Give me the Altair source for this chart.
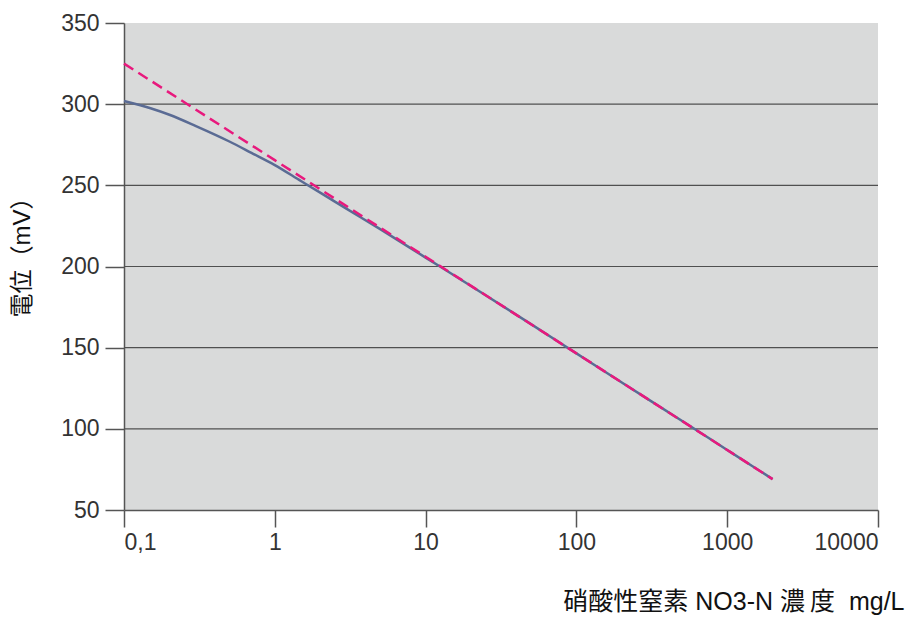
import altair as alt
import pandas as pd

# Measured potential curve (solid)
blue_x = [0.1, 0.15, 0.2, 0.3, 0.5, 0.7, 1, 1.5, 2, 3, 5, 10, 20, 50, 100, 200, 500, 1000, 2000]
blue_y = [302, 297.5, 293.5, 286.5, 277, 270, 262.5, 252.5, 245.5, 235.5, 223, 205.5, 188, 164.5, 146.5, 128.5, 105, 87, 69]

# Ideal Nernst line (dashed)
pink_x = [0.1, 1, 10, 100, 1000, 2000]
pink_y = [325, 265.5, 206, 146.5, 87, 69]

x_ticks = [0.1, 1, 10, 100, 1000, 10000]
y_ticks = [50, 100, 150, 200, 250, 300, 350]
grid_y = [100, 150, 200, 250, 300]

x_title = "硝酸性窒素 NO3-N 濃\u2009度\u00a0 mg/L"
y_title = "電位（mV）"

FONT = "Liberation Sans, Arial, Noto Sans CJK JP, sans-serif"

blue_df = pd.DataFrame({"c": blue_x, "e": blue_y})
pink_df = pd.DataFrame({"c": pink_x, "e": pink_y})
grid_df = pd.DataFrame({"e": grid_y})

xscale = alt.Scale(type="log", domain=[0.1, 10000], nice=False)
yscale = alt.Scale(domain=[50, 350], nice=False, zero=False)

x_axis = alt.Axis(
    values=x_ticks,
    labelExpr="replace(format(datum.value, '~g'), '.', ',')",
    grid=False,
    domain=True,
    domainColor="#555555",
    domainWidth=1.5,
    tickColor="#555555",
    tickWidth=1.5,
    tickSize=17,
    labelPadding=4,
    labelFontSize=23,
    labelColor="#333333",
    labelFont=FONT,
    title=x_title,
    titleFont=FONT,
    titleFontSize=25,
    titleFontWeight="normal",
    titleColor="#111111",
    titleAnchor="end",
    titleAlign="right",
    titleBaseline="alphabetic",
    titleX=780,
    titleY=99,
)

y_axis = alt.Axis(
    values=y_ticks,
    grid=False,
    domain=True,
    domainColor="#555555",
    domainWidth=1.5,
    tickColor="#555555",
    tickWidth=1.5,
    tickSize=19,
    labelPadding=6,
    labelFontSize=23,
    labelColor="#333333",
    labelFont=FONT,
    title=y_title,
    titleFont=FONT,
    titleFontSize=24,
    titleFontWeight="normal",
    titleColor="#111111",
    titleAngle=270,
    titleAlign="center",
    titleBaseline="middle",
    titleX=-102,
    titleY=228,
)

grid = alt.Chart(grid_df).mark_rule(color="#505050", strokeWidth=1.2).encode(
    y=alt.Y("e:Q", scale=yscale, axis=y_axis)
)

blue = alt.Chart(blue_df).mark_line(color="#5a6b94", strokeWidth=2.5, interpolate="monotone").encode(
    x=alt.X("c:Q", scale=xscale, axis=x_axis),
    y=alt.Y("e:Q", scale=yscale),
)

pink = alt.Chart(pink_df).mark_line(color="#e8197d", strokeWidth=2.5, strokeDash=[11, 6]).encode(
    x=alt.X("c:Q", scale=xscale),
    y=alt.Y("e:Q", scale=yscale),
)

chart = (
    alt.layer(grid, blue, pink)
    .properties(
        width=754,
        height=487,
        autosize="none",
        padding={"left": 116, "top": 15, "right": 29, "bottom": 105},
        background="white",
    )
    .configure_view(fill="#d9dada", strokeWidth=0)
)

chart.save("out.html", embed_options={"renderer": "svg", "actions": False})
